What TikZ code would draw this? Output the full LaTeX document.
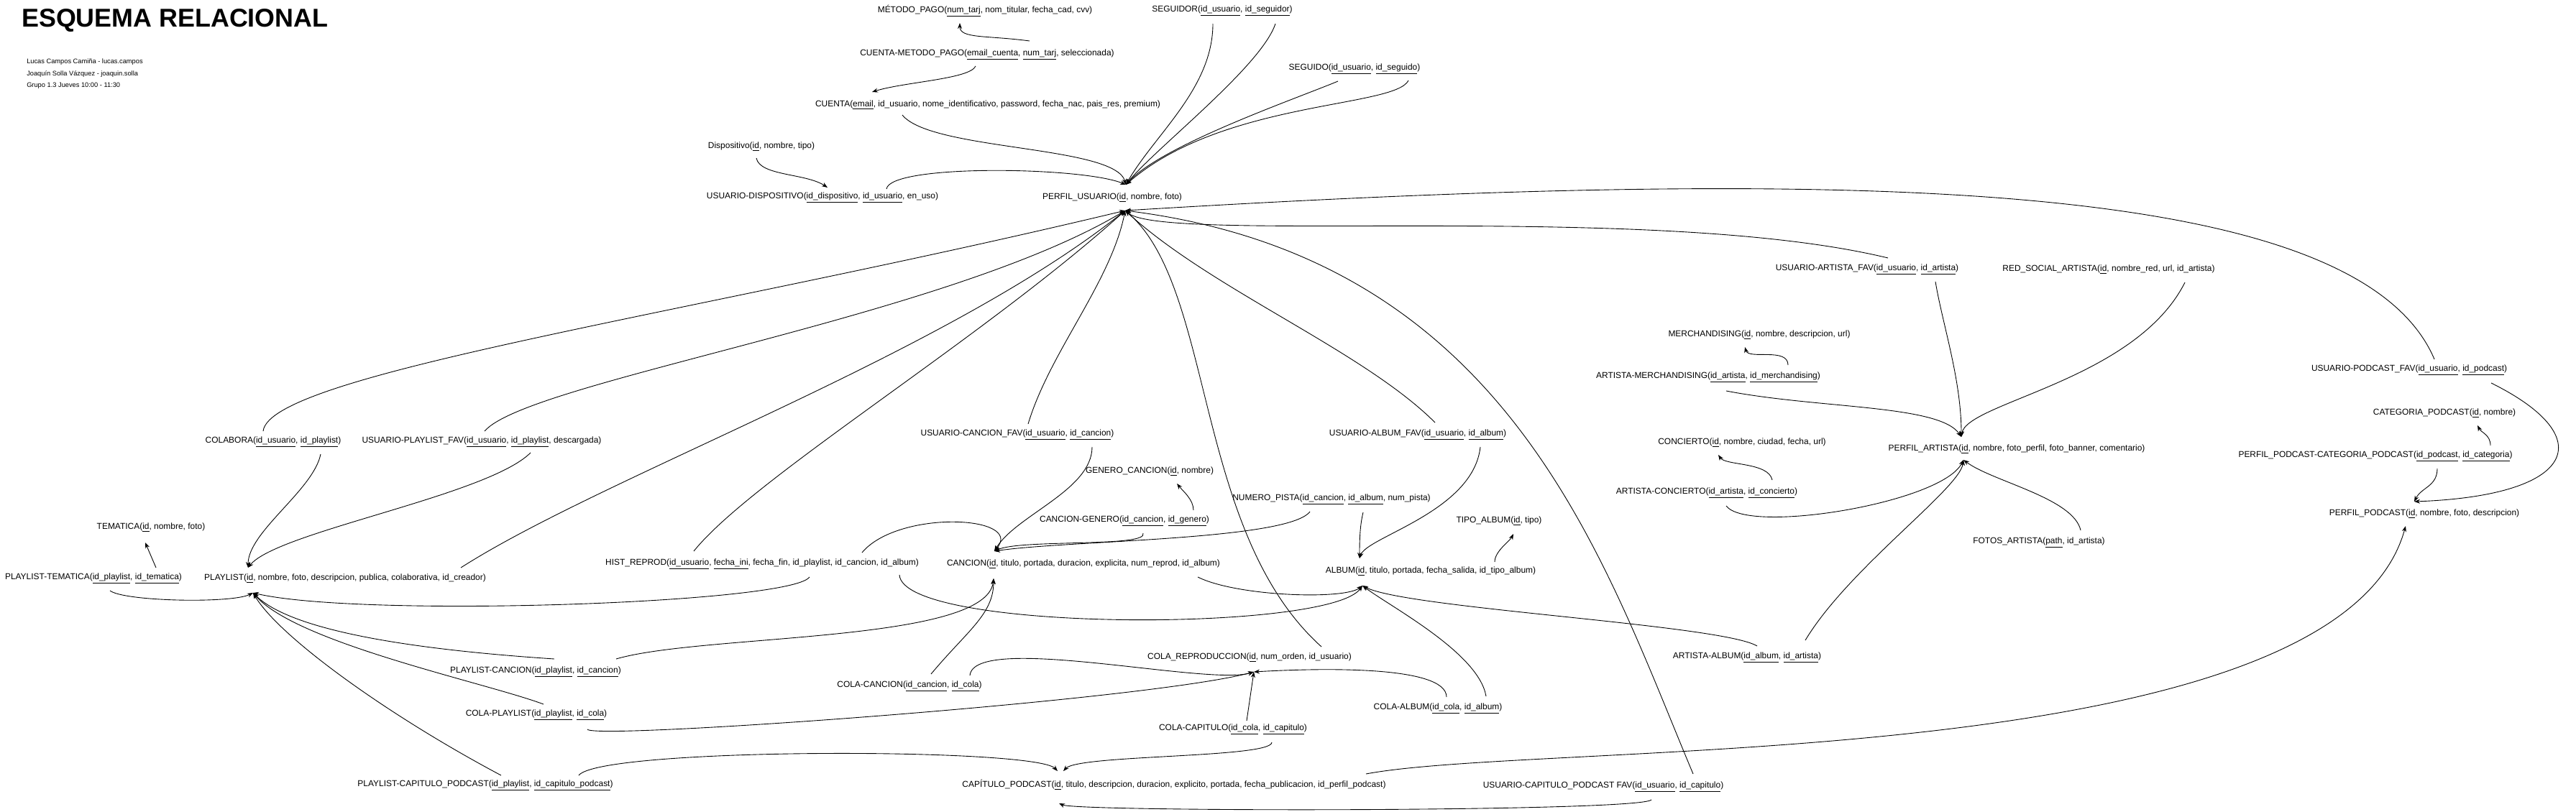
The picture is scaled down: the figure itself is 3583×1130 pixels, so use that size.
\documentclass[tikz,border=0pt]{standalone}
\usepackage{fontspec}
\setmainfont{Liberation Sans}
\usetikzlibrary{arrows.meta,calc}
\newcommand{\pk}[1]{\underline{#1}}
\tikzset{
	tabla/.style={inner sep=0pt, font=\fontsize{8.5}{10}\selectfont},
	fk/.style={-{Stealth[length=2mm,width=1.5mm]}, line width=0.22mm},
}

\begin{document}
\begin{tikzpicture}[x=0.25mm, y=-0.25mm]
	\useasboundingbox (0,0) rectangle (3583,1130);
	\node[anchor=base west, inner sep=0pt, font=\bfseries\fontsize{25.5}{30}\selectfont] (titulo) at (30,37) {ESQUEMA RELACIONAL};
	\node[anchor=base west, inner sep=0pt, font=\fontsize{6.6}{8}\selectfont] (autor1) at (37,88) {Lucas Campos Camiña - lucas.campos};
	\node[anchor=base west, inner sep=0pt, font=\fontsize{6.6}{8}\selectfont] (autor2) at (37,105) {Joaquín Solla Vázquez - joaquin.solla};
	\node[anchor=base west, inner sep=0pt, font=\fontsize{6.6}{8}\selectfont] (autor3) at (37,121) {Grupo 1.3 Jueves 10:00 - 11:30};
	% usuarios
	\node[tabla] (mp) at (1370,15) {MÉTODO\_PAGO(\pk{num\_tarj}, nom\_titular, fecha\_cad, cvv)};
	\node[tabla] (sgr) at (1700,15) {SEGUIDOR(\pk{id\_usuario}, \pk{id\_seguidor})};
	\node[tabla] (cmp) at (1373,76) {CUENTA-METODO\_PAGO(\pk{email\_cuenta}, \pk{num\_tarj}, seleccionada)};
	\node[tabla] (sgd) at (1884,96) {SEGUIDO(\pk{id\_usuario}, \pk{id\_seguido})};
	\node[tabla] (cta) at (1374,146) {CUENTA(\pk{email}, id\_usuario, nome\_identificativo, password, fecha\_nac, pais\_res, premium)};
	\node[tabla] (disp) at (1059,204) {Dispositivo(\pk{id}, nombre, tipo)};
	\node[tabla] (udisp) at (1144,275) {USUARIO-DISPOSITIVO(\pk{id\_dispositivo}, \pk{id\_usuario}, en\_uso)};
	\node[tabla] (pu) at (1547,275) {PERFIL\_USUARIO(\pk{id}, nombre, foto)};
	% artistas
	\node[tabla] (uaf) at (2597,375) {USUARIO-ARTISTA\_FAV(\pk{id\_usuario}, \pk{id\_artista})};
	\node[tabla] (rsa) at (2933,375) {RED\_SOCIAL\_ARTISTA(\pk{id}, nombre\_red, url, id\_artista)};
	\node[tabla] (merch) at (2447,466) {MERCHANDISING(\pk{id}, nombre, descripcion, url)};
	\node[tabla] (amerch) at (2376,525) {ARTISTA-MERCHANDISING(\pk{id\_artista}, \pk{id\_merchandising})};
	\node[tabla] (conc) at (2423,616) {CONCIERTO(\pk{id}, nombre, ciudad, fecha, url)};
	\node[tabla] (pa) at (2805,625) {PERFIL\_ARTISTA(\pk{id}, nombre, foto\_perfil, foto\_banner, comentario)};
	\node[tabla] (aconc) at (2374,686) {ARTISTA-CONCIERTO(\pk{id\_artista}, \pk{id\_concierto})};
	\node[tabla] (fotos) at (2836,755) {FOTOS\_ARTISTA(\pk{path}, id\_artista)};
	% podcasts
	\node[tabla] (upf) at (3351,515) {USUARIO-PODCAST\_FAV(\pk{id\_usuario}, \pk{id\_podcast})};
	\node[tabla] (catp) at (3400,575) {CATEGORIA\_PODCAST(\pk{id}, nombre)};
	\node[tabla] (ppcp) at (3304,635) {PERFIL\_PODCAST-CATEGORIA\_PODCAST(\pk{id\_podcast}, \pk{id\_categoria})};
	\node[tabla] (pp) at (3372,715) {PERFIL\_PODCAST(\pk{id}, nombre, foto, descripcion)};
	% playlists y canciones
	\node[tabla] (colab) at (380,615) {COLABORA(\pk{id\_usuario}, \pk{id\_playlist})};
	\node[tabla] (uplf) at (670,615) {USUARIO-PLAYLIST\_FAV(\pk{id\_usuario}, \pk{id\_playlist}, descargada)};
	\node[tabla] (ucf) at (1415,605) {USUARIO-CANCION\_FAV(\pk{id\_usuario}, \pk{id\_cancion})};
	\node[tabla] (ualf) at (1972,605) {USUARIO-ALBUM\_FAV(\pk{id\_usuario}, \pk{id\_album})};
	\node[tabla] (gen) at (1599,656) {GENERO\_CANCION(\pk{id}, nombre)};
	\node[tabla] (numpista) at (1852,695) {NUMERO\_PISTA(\pk{id\_cancion}, \pk{id\_album}, num\_pista)};
	\node[tabla] (tema) at (210,734) {TEMATICA(\pk{id}, nombre, foto)};
	\node[tabla] (cgen) at (1564,725) {CANCION-GENERO(\pk{id\_cancion}, \pk{id\_genero})};
	\node[tabla] (tipo) at (2085,725) {TIPO\_ALBUM(\pk{id}, tipo)};
	\node[tabla] (hist) at (1060,785) {HIST\_REPROD(\pk{id\_usuario}, \pk{fecha\_ini}, fecha\_fin, id\_playlist, id\_cancion, id\_album)};
	\node[tabla] (canc) at (1507,785) {CANCION(\pk{id}, titulo, portada, duracion, explicita, num\_reprod, id\_album)};
	\node[tabla] (album) at (1990,795) {ALBUM(\pk{id}, titulo, portada, fecha\_salida, id\_tipo\_album)};
	\node[tabla] (ptem) at (130,805) {PLAYLIST-TEMATICA(\pk{id\_playlist}, \pk{id\_tematica})};
	\node[tabla] (pl) at (480,805) {PLAYLIST(\pk{id}, nombre, foto, descripcion, publica, colaborativa, id\_creador)};
	% colas
	\node[tabla] (aalb) at (2430,915) {ARTISTA-ALBUM(\pk{id\_album}, \pk{id\_artista})};
	\node[tabla] (cola) at (1738,915) {COLA\_REPRODUCCION(\pk{id}, num\_orden, id\_usuario)};
	\node[tabla] (pcanc) at (745,935) {PLAYLIST-CANCION(\pk{id\_playlist}, \pk{id\_cancion})};
	\node[tabla] (ccanc) at (1265,955) {COLA-CANCION(\pk{id\_cancion}, \pk{id\_cola})};
	\node[tabla] (calb) at (2000,986) {COLA-ALBUM(\pk{id\_cola}, \pk{id\_album})};
	\node[tabla] (cpl) at (746,995) {COLA-PLAYLIST(\pk{id\_playlist}, \pk{id\_cola})};
	\node[tabla] (ccap) at (1715,1015) {COLA-CAPITULO(\pk{id\_cola}, \pk{id\_capitulo})};
	\node[tabla] (pcap) at (675,1093) {PLAYLIST-CAPITULO\_PODCAST(\pk{id\_playlist}, \pk{id\_capitulo\_podcast})};
	\node[tabla] (cap) at (1633,1092) {CAPÍTULO\_PODCAST(\pk{id}, titulo, descripcion, duracion, explicito, portada, fecha\_publicacion, id\_perfil\_podcast)};
	\node[tabla] (ucpf) at (2230,1095) {USUARIO-CAPITULO\_PODCAST FAV(\pk{id\_usuario}, \pk{id\_capitulo})};

	% puntos de llegada
	\coordinate (mpB) at ($(mp)+(-35,17)$);
	\coordinate (ctaT) at ($(cta)+(-161,-18)$);
	\coordinate (udispT) at ($(udisp)+(7,-14)$);
	\coordinate (puT) at ($(pu)+(19,-18)$);
	\coordinate (puB) at ($(pu)+(18,18)$);
	\coordinate (plT) at ($(pl)+(-135,-15)$);
	\coordinate (plB) at ($(pl)+(-128,20)$);
	\coordinate (temaB) at ($(tema)+(-8,21)$);
	\coordinate (cancT) at ($(canc)+(-124,-18)$);
	\coordinate (cancB) at ($(canc)+(-125,20)$);
	\coordinate (albumT) at ($(album)+(-99,-18)$);
	\coordinate (albumB) at ($(album)+(-95,20)$);
	\coordinate (genB) at ($(gen)+(38,17)$);
	\coordinate (tipoB) at ($(tipo)+(20,18)$);
	\coordinate (colaB) at ($(cola)+(6,20)$);
	\coordinate (capT) at ($(cap)+(-162,-19)$);
	\coordinate (capT2) at ($(cap)+(-154,-19)$);
	\coordinate (capB) at ($(cap)+(-160,26)$);
	\coordinate (paT) at ($(pa)+(-77,-17)$);
	\coordinate (paB) at ($(pa)+(-74,15)$);
	\coordinate (merchB) at ($(merch)+(-20,17)$);
	\coordinate (concB) at ($(conc)+(-33,17)$);
	\coordinate (catpB) at ($(catp)+(46,17)$);
	\coordinate (ppT) at ($(pp)+(-14,-17)$);
	\coordinate (ppB) at ($(pp)+(-26,17)$);

	% perfil usuario
	\draw[fk] ($(cmp)+(59,-19)$) .. controls +(-60,-8) and +(0,22) .. (mpB);
	\draw[fk] ($(cmp)+(-16,16)$) .. controls +(-8,18) and +(45,-14) .. (ctaT);
	\draw[fk] ($(cta)+(-119,14)$) .. controls +(40,50) and +(-15,-55) .. (puT);
	\draw[fk] ($(sgr)+(-13,18)$) .. controls +(0,90) and +(40,-70) .. (puT);
	\draw[fk] ($(sgr)+(74,18)$) .. controls +(-20,60) and +(40,-50) .. (puT);
	\draw[fk] ($(sgd)+(-23,17)$) .. controls +(-60,25) and +(50,-55) .. (puT);
	\draw[fk] ($(sgd)+(75,16)$) .. controls +(-19,38) and +(134,-117) .. (puT);
	\draw[fk] ($(disp)+(-7,16)$) .. controls +(5,25) and +(-30,-20) .. (udispT);
	\draw[fk] ($(udisp)+(89,-12)$) .. controls +(5,-35) and +(-60,-25) .. (puT);
	\draw[fk] ($(colab)+(-14,-15)$) .. controls +(9,-80) and +(-600,144) .. (puB);
	\draw[fk] ($(uplf)+(4,-15)$) .. controls +(60,-70) and +(-250,150) .. (puB);
	\draw[fk] ($(pl)+(161,-15)$) .. controls +(200,-128) and +(-250,200) .. (puB);
	\draw[fk] ($(hist)+(-95,-18)$) .. controls +(80,-100) and +(-200,180) .. (puB);
	\draw[fk] ($(ucf)+(15,-15)$) .. controls +(30,-100) and +(-20,100) .. (puB);
	\draw[fk] ($(cola)+(100,-15)$) .. controls +(-178,-160) and +(125,107) .. (puB);
	\draw[fk] ($(ualf)+(24,-17)$) .. controls +(-100,-100) and +(120,110) .. (puB);
	\draw[fk] ($(ucpf)+(125,-18)$) .. controls +(-125,-297) and +(535,67) .. (puB);
	\draw[fk] ($(uaf)+(29,-16)$) .. controls +(-326,-79) and +(55,47) .. (puB);
	\draw[fk] ($(upf)+(35,-15)$) .. controls +(-106,-250) and +(1035,-63) .. (puB);

	% playlist
	\draw[fk] ($(colab)+(66,17)$) .. controls +(-10,50) and +(0,-50) .. (plT);
	\draw[fk] ($(uplf)+(68,15)$) .. controls +(-60,60) and +(40,-50) .. (plT);
	\draw[fk] ($(ptem)+(23,17)$) .. controls +(20,15) and +(-30,15) .. (plB);
	\draw[fk] ($(ptem)+(87,-15)$) -- (temaB);
	\draw[fk] ($(hist)+(66,18)$) .. controls +(-26,37) and +(148,35) .. (plB);
	\draw[fk] ($(pcanc)+(26,-18)$) .. controls +(-150,-10) and +(60,60) .. (plB);
	\draw[fk] ($(cpl)+(10,-15)$) .. controls +(-80,-30) and +(60,70) .. (plB);
	\draw[fk] ($(pcap)+(22,-14)$) .. controls +(-160,-85) and +(35,60) .. (plB);

	% cancion y album
	\draw[fk] ($(pcanc)+(112,-18)$) .. controls +(120,-35) and +(-10,90) .. (cancB);
	\draw[fk] ($(ccanc)+(30,-17)$) .. controls +(50,-60) and +(0,50) .. (cancB);
	\draw[fk] ($(hist)+(139,-16)$) .. controls +(50,-60) and +(43,-50) .. (cancT);
	\draw[fk] ($(ucf)+(104,17)$) .. controls +(0,60) and +(30,-50) .. (cancT);
	\draw[fk] ($(cgen)+(26,17)$) .. controls +(8,20) and +(37,-17) .. (cancT);
	\draw[fk] ($(cgen)+(96,-15)$) .. controls +(0,-15) and +(8,10) .. (genB);
	\draw[fk] ($(numpista)+(-30,17)$) .. controls +(-30,40) and +(100,-15) .. (cancT);
	\draw[fk] ($(numpista)+(44,18)$) .. controls +(-5,20) and +(0,-20) .. (albumT);
	\draw[fk] ($(ualf)+(87,17)$) .. controls +(-10,90) and +(10,-30) .. (albumT);
	\draw[fk] ($(album)+(89,-13)$) .. controls +(0,-15) and +(-5,10) .. (tipoB);
	\draw[fk] ($(canc)+(159,18)$) .. controls +(54,27) and +(-25,20) .. (albumB);
	\draw[fk] ($(hist)+(191,15)$) .. controls +(5,80) and +(-45,65) .. (albumB);
	\draw[fk] ($(calb)+(67,-17)$) .. controls +(-10,-60) and +(40,30) .. (albumB);
	\draw[fk] ($(aalb)+(14,-16)$) .. controls +(-50,-30) and +(61,32) .. (albumB);

	% cola de reproduccion
	\draw[fk] ($(ccanc)+(84,-15)$) .. controls +(6,-60) and +(-64,20) .. (colaB);
	\draw[fk] ($(cpl)+(71,20)$) .. controls +(10,15) and +(-150,40) .. (colaB);
	\draw[fk] ($(ccap)+(19,-12)$) -- (colaB);
	\draw[fk] ($(calb)+(12,-16)$) .. controls +(0,-45) and +(86,-5) .. (colaB);

	% capitulos
	\draw[fk] ($(pcap)+(130,-14)$) .. controls +(30,-39) and +(-31,-33) .. (capT);
	\draw[fk] ($(ccap)+(54,18)$) .. controls +(0,22) and +(21,-23) .. (capT2);
	\draw[fk] ($(ucpf)+(67,18)$) .. controls +(-17,17) and +(27,12) .. (capB);
	\draw[fk] ($(cap)+(267,-15)$) .. controls +(250,-47) and +(-96,348) .. (ppB);

	% artistas
	\draw[fk] ($(uaf)+(95,17)$) .. controls +(10,60) and +(0,-80) .. (paT);
	\draw[fk] ($(rsa)+(106,18)$) .. controls +(-69,137) and +(7,-48) .. (paT);
	\draw[fk] ($(amerch)+(111,-17)$) .. controls +(0,-25) and +(5,18) .. (merchB);
	\draw[fk] ($(amerch)+(25,19)$) .. controls +(130,25) and +(-30,-45) .. (paT);
	\draw[fk] ($(aconc)+(91,-18)$) .. controls +(-5,-25) and +(10,15) .. (concB);
	\draw[fk] ($(aconc)+(27,18)$) .. controls +(30,40) and +(-30,60) .. (paB);
	\draw[fk] ($(fotos)+(58,-17)$) .. controls +(-10,-45) and +(40,30) .. (paB);
	\draw[fk] ($(aalb)+(81,-24)$) .. controls +(60,-100) and +(-5,40) .. (paB);

	% podcasts
	\draw[fk] ($(upf)+(114,18)$) .. controls +(155,77) and +(222,-8) .. (ppT);
	\draw[fk] ($(ppcp)+(160,-15)$) .. controls +(0,-15) and +(5,10) .. (catpB);
	\draw[fk] ($(ppcp)+(86,17)$) .. controls +(0,25) and +(10,-20) .. (ppT);
\end{tikzpicture}
\end{document}
